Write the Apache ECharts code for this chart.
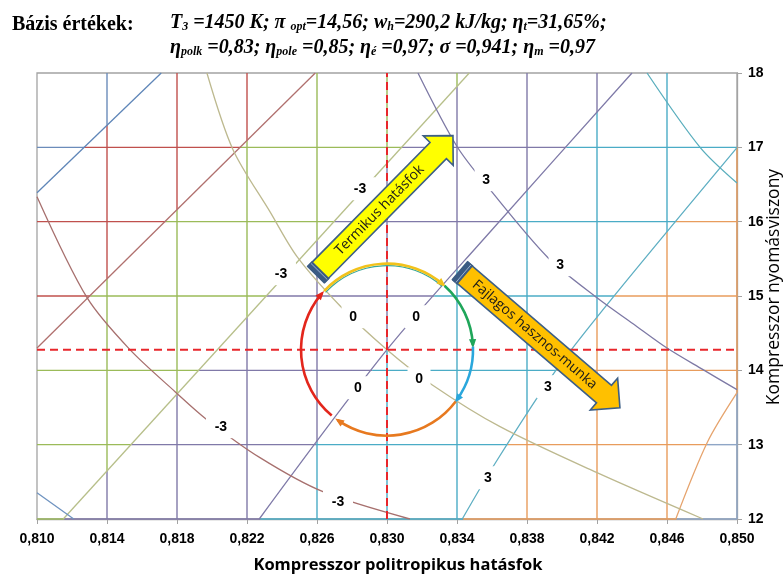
<!DOCTYPE html>
<html>
<head>
<meta charset="utf-8">
<script src="https://cdn.jsdelivr.net/npm/echarts@6/dist/echarts.min.js"></script>
<style>
  html, body { margin: 0; padding: 0; background: #ffffff; }
  #chart { width: 783px; height: 581px; }
</style>
</head>
<body>
<div id="chart"></div>
<script>
// ---- Axes -------------------------------------------------------------
const xTicks = [0.810, 0.814, 0.818, 0.822, 0.826, 0.830, 0.834, 0.838, 0.842, 0.846, 0.850];
const yTicks = [12, 13, 14, 15, 16, 17, 18];

// Base design point (η_polk, π)
const basePoint = [0.830, 14.278];

// ---- Specific useful work deviation contours (rising lines) ---------
const workM9 = [[0.8100, 16.39], [0.8171, 18.0]];
const workM6 = [[0.8100, 14.30], [0.8259, 18.0]];
const workM3 = [[0.8115, 12.0], [0.8347, 18.0]];
const work0  = [[0.8227, 12.0], [0.8300, 14.278], [0.8359, 15.865], [0.8440, 18.0]];
const workP3 = [[0.8343, 12.0], [0.8362, 12.757], [0.8396, 13.982], [0.8429, 14.977], [0.8500, 16.995]];
const workP6 = [[0.8465, 12.0], [0.8483, 13.03], [0.8500, 13.70]];

// ---- Thermal efficiency deviation contours (falling curves) ---------
const effM6 = [[0.8100, 12.354], [0.8121, 12.0]];
const effM3 = [[0.8100, 16.336], [0.81286, 14.977], [0.81531, 14.278], [0.81789, 13.713],
               [0.81971, 13.336], [0.82274, 12.825], [0.82634, 12.367], [0.83131, 12.0]];
const eff0  = [[0.81971, 18.0], [0.8212, 16.968], [0.82331, 16.134], [0.82486, 15.529],
               [0.82731, 14.869], [0.830, 14.278], [0.83257, 13.807], [0.83646, 13.242],
               [0.842, 12.623], [0.84806, 12.0]];
const effP3 = [[0.83177, 18.0], [0.834, 17.011], [0.83589, 16.43], [0.8392, 15.515],
               [0.842, 14.977], [0.84406, 14.627], [0.846, 14.30], [0.84806, 14.009], [0.850, 13.74]];
const effP6 = [[0.84486, 18.0], [0.84789, 17.0], [0.850, 16.52]];

// ---- Contour value labels: [η_polk, π, text] -------------------------
const workLabels = [[0.82846, 16.443, '-3'], [0.82394, 15.300, '-3'],
                    [0.83166, 14.721, '0'],  [0.82834, 13.766, '0'],
                    [0.8392, 13.780, '3'],   [0.83577, 12.555, '3']];
const effLabels  = [[0.82051, 13.242, '-3'], [0.8272, 12.232, '-3'],
                    [0.82806, 14.721, '0'],  [0.83183, 13.887, '0'],
                    [0.83566, 16.565, '3'],  [0.83989, 15.421, '3']];

// ---- Trend arrows: [fromX, fromY, toX, toY, caption] -----------------
const arrowThermal = [0.82594, 15.287, 0.83377, 17.157, 'Termikus hatásfok'];
const arrowWork    = [0.83417, 15.340, 0.84331, 13.497, 'Fajlagos hasznos-munka'];

// ---- Styling ----------------------------------------------------------
const workColors = ['#5f86b8', '#b0706e', '#b7bf8a', '#7f7aa8', '#5fafc3', '#e6a46e'];
const effColors  = ['#6f93c0', '#a7706e', '#bdb98f', '#7d79a5', '#5aaebd'];
const zoneColors = ['#6b8cba', '#c0504d', '#9bbb59', '#8079a8', '#4bacc6', '#e89c5c', '#8fa6c6'];
const borderGray = '#a3a3a3';
const rightEdgeTop = 17;          // colored part of the right frame ends here
const ringRadius = 86;            // px
const ringArcs = [                // degrees, counter-clockwise from +x, drawn clockwise
  { from: 230, to: 139, color: '#e3261c' },
  { from: 137, to: 49,  color: '#f2c21b', inner: '#3aa89a' },
  { from: 48,  to: 3,   color: '#1fa65a' },
  { from: 2,   to: -36, color: '#2aa7dc' },
  { from: -37, to: -125, color: '#e7791f' }
];

const workLines = [workM9, workM6, workM3, work0, workP3, workP6];
const effLines = [effM6, effM3, eff0, effP3, effP6];

// x of a rising contour at a given pressure ratio (piecewise linear, extended at the ends)
function xAt(line, y) {
  const pts = line.slice().sort((a, b) => a[1] - b[1]);
  let i = 0;
  if (y >= pts[pts.length - 1][1]) i = pts.length - 2;
  else if (y > pts[0][1]) { while (pts[i + 1][1] < y) i++; }
  const [xa, ya] = pts[i], [xb, yb] = pts[i + 1];
  return xa + (xb - xa) * (y - ya) / (yb - ya);
}
function zoneOf(x, y) {
  let z = 0;
  workLines.forEach(l => { if (x > xAt(l, y)) z++; });
  return z;
}

// Grid lines are split into pieces colored by the work band they pass through
function gridPieces() {
  const out = [];
  const N = 800;
  const walk = (f) => {
    let start = f(0), z0 = zoneOf(start[0], start[1]);
    for (let i = 1; i <= N; i++) {
      const p = f(i / N);
      const z = zoneOf(p[0], p[1]);
      if (z !== z0) { out.push([start[0], start[1], p[0], p[1], z0]); start = p; z0 = z; }
    }
    const e = f(1);
    out.push([start[0], start[1], e[0], e[1], z0]);
  };
  const x0 = xTicks[0], x1 = xTicks[xTicks.length - 1];
  const y0 = yTicks[0], y1 = yTicks[yTicks.length - 1];
  yTicks.forEach(y => { if (y !== y1) walk(t => [x0 + t * (x1 - x0), y]); });
  xTicks.forEach(x => {
    if (x === x0) return;
    const top = x === x1 ? rightEdgeTop : y1;
    walk(t => [x, y0 + t * (top - y0)]);
  });
  return out;
}

const series = [];

series.push({
  type: 'custom', z: 1, silent: true,
  encode: { x: [0, 2], y: [1, 3] },
  data: gridPieces(),
  renderItem: (params, api) => {
    const a = api.coord([api.value(0), api.value(1)]);
    const b = api.coord([api.value(2), api.value(3)]);
    return { type: 'line', shape: { x1: a[0], y1: a[1], x2: b[0], y2: b[1] },
             style: { stroke: zoneColors[api.value(4)], lineWidth: 1.4 } };
  }
});

const curveBase = { type: 'line', z: 2, silent: true, showSymbol: false, symbol: 'none', smooth: 0.3 };
workLines.forEach((l, i) => series.push(Object.assign({}, curveBase, {
  data: l, lineStyle: { color: workColors[i], width: 1.3 } })));
effLines.forEach((l, i) => series.push(Object.assign({}, curveBase, {
  data: l, lineStyle: { color: effColors[i], width: 1.3 } })));

// Contour values on white boxes that interrupt the lines beneath
const allLabels = workLabels.concat(effLabels);
series.push({
  type: 'custom', z: 3, silent: true,
  encode: { x: 0, y: 1 },
  data: allLabels.map(d => [d[0], d[1]]),
  renderItem: (params, api) => {
    const txt = allLabels[params.dataIndex][2];
    const c = api.coord([api.value(0), api.value(1)]);
    const w = 16 + 7 * txt.length, h = 23;
    return { type: 'group', children: [
      { type: 'rect', shape: { x: c[0] - w / 2, y: c[1] - h / 2, width: w, height: h }, style: { fill: '#ffffff' } },
      { type: 'text', x: c[0], y: c[1], style: { text: txt, x: 0, y: 0, align: 'center', verticalAlign: 'middle',
        fill: '#000', fontFamily: 'Liberation Sans', fontWeight: 'bold', fontSize: 14 } }
    ] };
  }
});

// Base point cross-hair
const dash = { color: '#e8262b', width: 2, type: [8, 5] };
series.push({ type: 'line', z: 4, silent: true, symbol: 'none', lineStyle: dash,
  data: [[basePoint[0], yTicks[0]], [basePoint[0], yTicks[yTicks.length - 1]]] });
series.push({ type: 'line', z: 4, silent: true, symbol: 'none', lineStyle: dash,
  data: [[xTicks[0], basePoint[1]], [xTicks[xTicks.length - 1], basePoint[1]]] });

// Ring of arrows around the base point
series.push({
  type: 'custom', z: 5, silent: true, data: [basePoint],
  renderItem: (params, api) => {
    const c = api.coord([api.value(0), api.value(1)]);
    const children = [];
    const rad = d => -d * Math.PI / 180;
    ringArcs.forEach(a => {
      if (a.inner) {
        children.push({ type: 'arc', shape: { cx: c[0], cy: c[1], r: ringRadius - 2, startAngle: rad(a.from), endAngle: rad(a.to), clockwise: true },
          style: { stroke: a.inner, lineWidth: 1.2, fill: null } });
      }
      children.push({ type: 'arc', shape: { cx: c[0], cy: c[1], r: ringRadius, startAngle: rad(a.from), endAngle: rad(a.to), clockwise: true },
        style: { stroke: a.color, lineWidth: 2.6, fill: null } });
      const t = rad(a.to);
      const px = c[0] + ringRadius * Math.cos(t), py = c[1] + ringRadius * Math.sin(t);
      const tx = -Math.sin(t), ty = Math.cos(t), nx = Math.cos(t), ny = Math.sin(t);
      children.push({ type: 'polygon', shape: { points: [
        [px + tx * 3, py + ty * 3],
        [px - tx * 6 + nx * 3.6, py - ty * 6 + ny * 3.6],
        [px - tx * 6 - nx * 3.6, py - ty * 6 - ny * 3.6]] },
        style: { fill: a.color } });
    });
    return { type: 'group', children };
  }
});

// Direction arrows with captions
series.push({
  type: 'custom', z: 6, silent: true,
  data: [arrowThermal, arrowWork].map(a => a.slice(0, 4)),
  renderItem: (params, api) => {
    const src = params.dataIndex === 0 ? arrowThermal : arrowWork;
    const fill = params.dataIndex === 0 ? '#ffff00' : '#ffc000';
    const p0 = api.coord([api.value(0), api.value(1)]);
    const p1 = api.coord([api.value(2), api.value(3)]);
    const dx = p1[0] - p0[0], dy = p1[1] - p0[1], L = Math.hypot(dx, dy);
    const ux = dx / L, uy = dy / L, nx = -uy, ny = ux;
    const sw = 11.5, hw = 21, hl = 21, cap = 7;
    const hb = [p1[0] - ux * hl, p1[1] - uy * hl];
    const P = (b, s) => [b[0] + nx * s, b[1] + ny * s];
    const capEnd = [p0[0] + ux * cap, p0[1] + uy * cap];
    const mid = [(capEnd[0] + hb[0]) / 2, (capEnd[1] + hb[1]) / 2];
    return { type: 'group', children: [
      { type: 'polygon', shape: { points: [P(p0, sw), P(hb, sw), P(hb, hw), p1, P(hb, -hw), P(hb, -sw), P(p0, -sw)] },
        style: { fill, stroke: '#3d5f86', lineWidth: 1.6 } },
      { type: 'polygon', shape: { points: [P(p0, sw + 1), P(capEnd, sw + 1), P(capEnd, -sw - 1), P(p0, -sw - 1)] },
        style: { fill: '#3b5b84' } },
      { type: 'line', shape: { x1: P(capEnd, sw)[0] - ux * 2.5, y1: P(capEnd, sw)[1] - uy * 2.5, x2: P(capEnd, -sw)[0] - ux * 2.5, y2: P(capEnd, -sw)[1] - uy * 2.5 },
        style: { stroke: '#9db3cf', lineWidth: 1 } },
      { type: 'text', x: mid[0], y: mid[1], rotation: -Math.atan2(dy, dx),
        style: { text: src[4], x: 0, y: 0, align: 'center', verticalAlign: 'middle',
                 fill: '#1a1a1a', fontSize: 14, fontFamily: 'Open Sans' } }
    ] };
  }
});

const titleRich = { s: { fontFamily: 'Liberation Serif', fontSize: 12, fontStyle: 'italic', fontWeight: 'bold', verticalAlign: 'bottom', lineHeight: 15 } };

const chart = echarts.init(document.getElementById('chart'), null, { renderer: 'canvas' });
chart.setOption({
  animation: false,
  backgroundColor: '#ffffff',
  grid: { left: 37, right: 46, top: 73, bottom: 62, outerBoundsMode: 'none', containLabel: false,
          show: true, borderColor: borderGray, borderWidth: 1.3, backgroundColor: 'transparent' },
  xAxis: {
    type: 'value', min: xTicks[0], max: xTicks[xTicks.length - 1],
    axisLine: { show: true, lineStyle: { color: borderGray, width: 1.3 } },
    axisTick: { show: true, length: 5, customValues: xTicks, lineStyle: { color: borderGray } },
    axisLabel: { customValues: xTicks, formatter: v => v.toFixed(3).replace('.', ','), margin: 13,
                 color: '#000', fontWeight: 'bold', fontSize: 14, fontFamily: 'Liberation Sans' },
    splitLine: { show: false },
    name: 'Kompresszor politropikus hatásfok', nameLocation: 'middle', nameGap: 38,
    nameTextStyle: { color: '#000', fontWeight: 'bold', fontSize: 16.5, fontFamily: 'Open Sans', padding: [0, 0, 0, 22] }
  },
  yAxis: {
    type: 'value', position: 'right', min: yTicks[0], max: yTicks[yTicks.length - 1], interval: 1,
    axisLine: { show: true, lineStyle: { color: borderGray, width: 1.3 } },
    axisTick: { show: true, length: 5, lineStyle: { color: borderGray } },
    axisLabel: { margin: 11, color: '#000', fontWeight: 'bold', fontSize: 14, fontFamily: 'Liberation Sans' },
    splitLine: { show: false }
  },
  graphic: [
    { type: 'text', left: 12, top: 15, style: { text: 'Bázis értékek:', fill: '#000',
      font: 'bold 20px "Liberation Serif"' } },
    { type: 'text', left: 170, top: 13, style: {
      text: 'T{s|3} =1450 K; π {s|opt}=14,56; w{s|h}=290,2 kJ/kg; η{s|t}=31,65%;',
      fill: '#000', fontFamily: 'Liberation Serif', fontSize: 20, fontStyle: 'italic', fontWeight: 'bold',
      rich: titleRich
    } },
    { type: 'text', left: 170, top: 38, style: {
      text: 'η{s|polk} =0,83; η{s|pole} =0,85; η{s|é} =0,97; σ =0,941; η{s|m} =0,97',
      fill: '#000', fontFamily: 'Liberation Serif', fontSize: 20, fontStyle: 'italic', fontWeight: 'bold',
      rich: titleRich
    } },
    // right axis title, reading upwards
    { type: 'text', x: 774, y: 287, rotation: Math.PI / 2, style: {
      text: 'Kompresszor nyomásviszony', x: 0, y: 0, align: 'center', verticalAlign: 'middle',
      fill: '#000', fontSize: 17.5, fontFamily: 'Open Sans' } }
  ],
  series
});
</script>
</body>
</html>
